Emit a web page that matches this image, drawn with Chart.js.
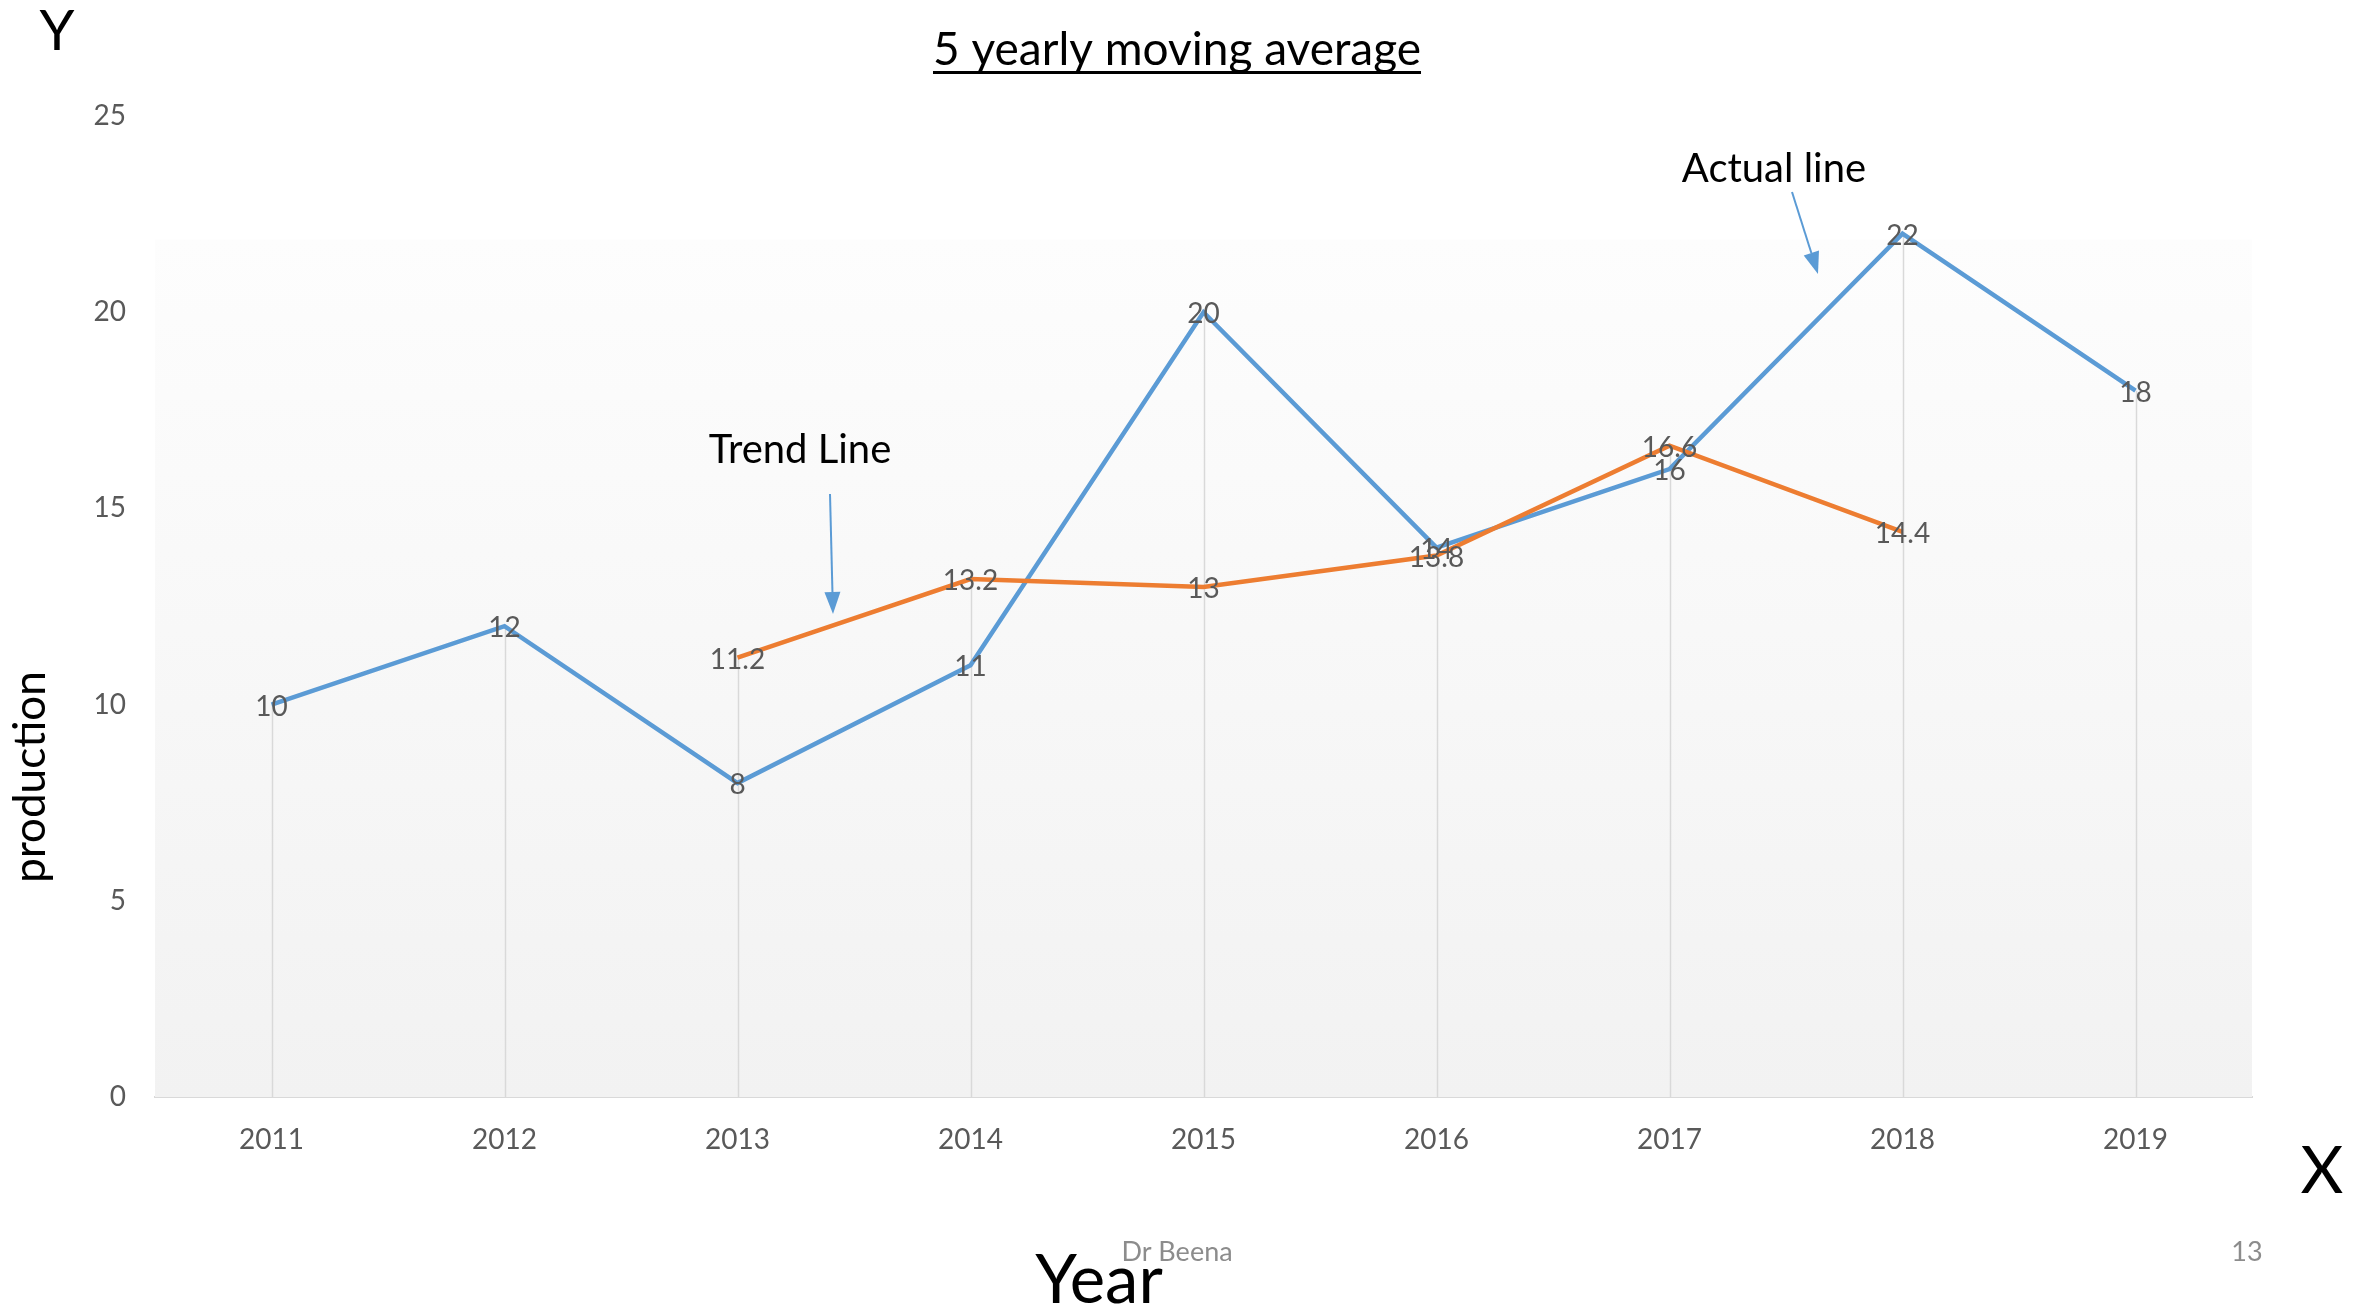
<!DOCTYPE html>
<html>
<head>
<meta charset="utf-8">
<script src="https://cdn.jsdelivr.net/npm/chart.js@4"></script>
<style>
  html, body { margin: 0; padding: 0; background: #ffffff; }
  #wrap { width: 2357px; height: 1310px; }
</style>
</head>
<body>
<div id="wrap"><canvas id="grafico" width="2357" height="1310"></canvas></div>
<script>
// data
const years = ['2011', '2012', '2013', '2014', '2015', '2016', '2017', '2018', '2019'];
const actual = [10, 12, 8, 11, 20, 14, 16, 22, 18];
const trend = [null, null, 11.2, 13.2, 13, 13.8, 16.6, 14.4, null];
const yTicks = [0, 5, 10, 15, 20, 25];

const FONT = 'Lato, "Open Sans", sans-serif';
const BLUE = '#5B9BD5';
const ORANGE = '#ED7D31';

// plot background: white on top, fading to light grey at the bottom
const fundo = {
  id: 'fundo',
  beforeDatasetsDraw(chart) {
    const { ctx, chartArea: a } = chart;
    const top = a.top + (a.bottom - a.top) * 0.126;
    const g = ctx.createLinearGradient(0, top, 0, a.bottom);
    g.addColorStop(0, '#fdfdfd');
    g.addColorStop(1, '#f2f2f2');
    ctx.save();
    ctx.fillStyle = g;
    ctx.fillRect(a.left, top, a.right - a.left, a.bottom - top);

    // drop lines from the highest point of each year down to the axis
    const xs = chart.scales.x, ys = chart.scales.y;
    ctx.strokeStyle = '#d9d9d9';
    ctx.lineWidth = 1.5;
    years.forEach((y, i) => {
      const v = Math.max(actual[i], trend[i] == null ? -Infinity : trend[i]);
      const px = Math.round(xs.getPixelForValue(i)) + 0.5;
      ctx.beginPath();
      ctx.moveTo(px, ys.getPixelForValue(v));
      ctx.lineTo(px, a.bottom);
      ctx.stroke();
    });
    ctx.restore();
  }
};

// value labels centred on each point
const rotulos = {
  id: 'rotulos',
  afterDatasetsDraw(chart) {
    const { ctx } = chart;
    ctx.save();
    ctx.font = '28px ' + FONT;
    ctx.fillStyle = '#595959';
    ctx.textAlign = 'center';
    ctx.textBaseline = 'middle';
    [1, 0].forEach(d => {
      const meta = chart.getDatasetMeta(d);
      const vals = chart.data.datasets[d].data;
      meta.data.forEach((el, i) => {
        if (vals[i] == null) return;
        ctx.fillText(String(vals[i]), el.x, el.y + 2);
      });
    });
    ctx.restore();
  }
};

function seta(ctx, x1, y1, x2, y2) {
  const ang = Math.atan2(y2 - y1, x2 - x1);
  const len = 22, w = 8;
  const bx = x2 - len * Math.cos(ang), by = y2 - len * Math.sin(ang);
  ctx.beginPath();
  ctx.moveTo(x1, y1);
  ctx.lineTo(bx, by);
  ctx.stroke();
  ctx.beginPath();
  ctx.moveTo(x2, y2);
  ctx.lineTo(bx + w * Math.sin(ang), by - w * Math.cos(ang));
  ctx.lineTo(bx - w * Math.sin(ang), by + w * Math.cos(ang));
  ctx.closePath();
  ctx.fill();
}

// slide texts and annotations
const textos = {
  id: 'textos',
  afterDraw(chart) {
    const { ctx } = chart;
    ctx.save();
    ctx.fillStyle = '#000000';
    ctx.textBaseline = 'alphabetic';
    ctx.textAlign = 'center';

    // title with underline
    ctx.font = '46px ' + FONT;
    const titulo = '5 yearly moving average';
    ctx.fillText(titulo, 1177, 65);
    const w = ctx.measureText(titulo).width;
    ctx.fillRect(1177 - w / 2, 71, w, 3);

    ctx.font = '56px ' + FONT;
    ctx.fillText('Y', 57, 50);
    ctx.font = '66px ' + FONT;
    ctx.fillText('X', 2322, 1193);
    ctx.font = '67px ' + FONT;
    ctx.fillText('Year', 1099, 1303);

    ctx.font = '40px ' + FONT;
    ctx.fillText('Trend Line', 800, 463);
    ctx.fillText('Actual line', 1774, 182);

    ctx.save();
    ctx.translate(45, 777);
    ctx.rotate(-Math.PI / 2);
    ctx.font = '44px ' + FONT;
    ctx.fillText('production', 0, 0);
    ctx.restore();

    ctx.fillStyle = '#8c8c8c';
    ctx.font = '27px ' + FONT;
    ctx.textBaseline = 'middle';
    ctx.fillText('Dr Beena', 1177, 1252);
    ctx.fillText('13', 2247, 1252);

    ctx.strokeStyle = BLUE;
    ctx.fillStyle = BLUE;
    ctx.lineWidth = 2;
    seta(ctx, 830, 494, 833, 614);
    seta(ctx, 1792, 192, 1818, 274);
    ctx.restore();
  }
};

const ctxGrafico = document.getElementById('grafico').getContext('2d');
new Chart(ctxGrafico, {
  type: 'line',
  data: {
    labels: years,
    datasets: [
      {
        label: 'Actual',
        data: actual,
        borderColor: BLUE,
        borderWidth: 4.5,
        pointRadius: 0,
        tension: 0,
        order: 1
      },
      {
        label: 'Trend',
        data: trend,
        borderColor: ORANGE,
        borderWidth: 4.5,
        pointRadius: 0,
        tension: 0,
        order: 0
      }
    ]
  },
  options: {
    responsive: false,
    animation: false,
    layout: { padding: { top: 116, right: 105, left: 0, bottom: 0 } },
    plugins: {
      legend: { display: false },
      title: { display: false },
      tooltip: { enabled: false }
    },
    scales: {
      x: {
        offset: true,
        grid: { display: false, drawTicks: false },
        border: { display: true, color: '#d9d9d9', width: 2 },
        ticks: {
          color: '#595959',
          font: { family: FONT, size: 28 },
          padding: 26,
          maxRotation: 0
        },
        afterFit: s => { s.height = 213; }
      },
      y: {
        min: 0,
        max: 25,
        afterBuildTicks: s => { s.ticks = yTicks.map(v => ({ value: v })); },
        grid: { display: false, drawTicks: false },
        border: { display: false },
        ticks: {
          color: '#595959',
          font: { family: FONT, size: 28 },
          padding: 29
        },
        afterFit: s => { s.width = 155; }
      }
    }
  },
  plugins: [fundo, rotulos, textos]
});
</script>
</body>
</html>
